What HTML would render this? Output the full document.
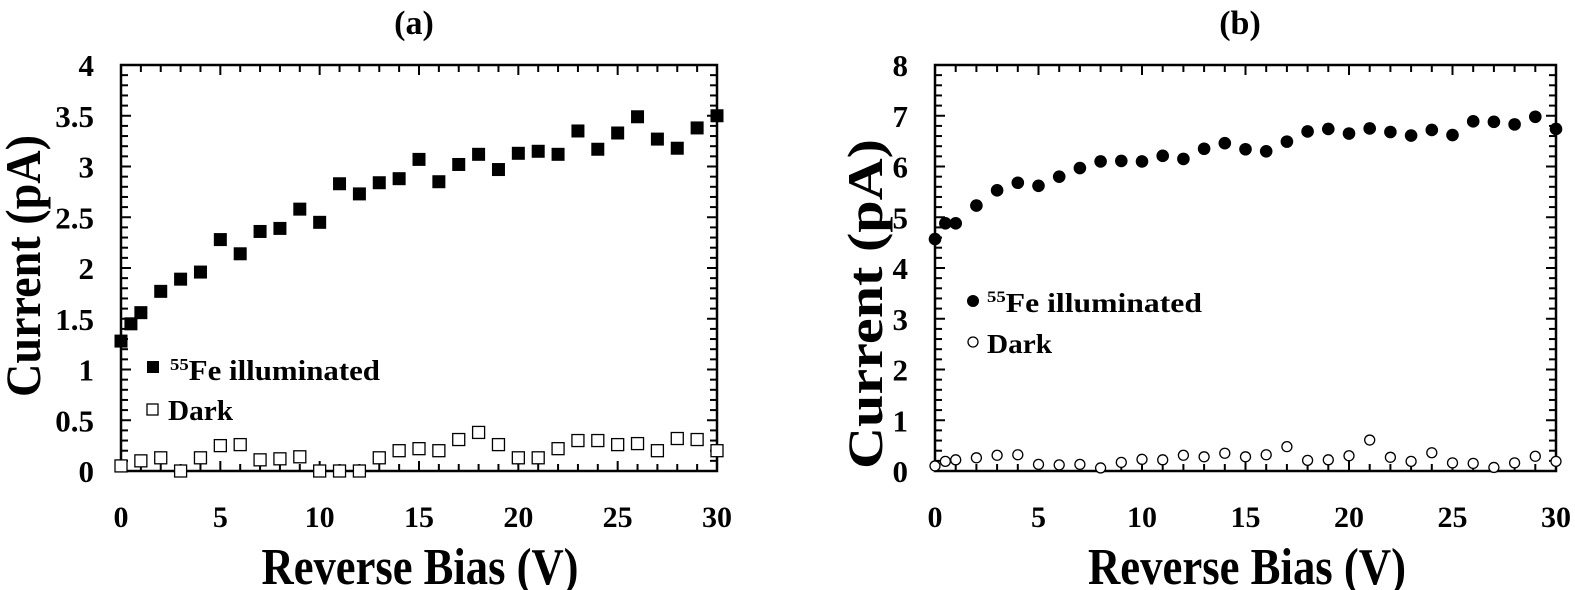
<!DOCTYPE html>
<html><head><meta charset="utf-8"><style>
html,body{margin:0;padding:0;background:#fff;}
svg{display:block;font-family:"Liberation Serif",serif;font-weight:bold;}
</style></head><body>
<svg id="s" width="1575" height="590" viewBox="0 0 1575 590" xmlns="http://www.w3.org/2000/svg"></svg>
<script>
const S=document.getElementById('s');let h='';
function panel(o){
 const {L,R,T,B,ymax,ymaj,ymin,fmt}=o;
 const X=v=>L+(R-L)*v/30, Y=v=>B-(B-T)*v/ymax;
 h+=`<rect x="${L}" y="${T}" width="${R-L}" height="${B-T}" fill="none" stroke="#000" stroke-width="2.5"/>`;
 for(let v=0;v<=30;v++){const x=X(v),len=v%5==0?10:7;
  h+=`<line x1="${x}" y1="${B}" x2="${x}" y2="${B-len}" stroke="#000" stroke-width="2"/><line x1="${x}" y1="${T}" x2="${x}" y2="${T+len}" stroke="#000" stroke-width="2"/>`;
  if(v%5==0)h+=`<text x="${x}" y="527" font-size="30" text-anchor="middle">${v}</text>`;}
 const n=Math.round(ymax/ymin);
 for(let i=0;i<=n;i++){const v=i*ymin,y=Y(v),maj=Math.abs(v/ymaj-Math.round(v/ymaj))<1e-6,len=maj?10:7;
  h+=`<line x1="${L}" y1="${y}" x2="${L+len}" y2="${y}" stroke="#000" stroke-width="2"/><line x1="${R}" y1="${y}" x2="${R-len}" y2="${y}" stroke="#000" stroke-width="2"/>`;
  if(maj)h+=`<text x="${L-27}" y="${y+11}" font-size="31" text-anchor="end">${fmt(v)}</text>`;}
 return {X,Y};
}
let a=panel({L:121,R:717,T:65,B:471,ymax:4,ymaj:0.5,ymin:0.1,fmt:v=>String(+v.toFixed(1))});
const xs=[0,0.5,1,2,3,4,5,6,7,8,9,10,11,12,13,14,15,16,17,18,19,20,21,22,23,24,25,26,27,28,29,30];
const af=[1.28,1.45,1.56,1.77,1.89,1.96,2.28,2.14,2.36,2.39,2.58,2.45,2.83,2.73,2.84,2.88,3.07,2.85,3.02,3.12,2.97,3.13,3.15,3.12,3.35,3.17,3.33,3.49,3.27,3.18,3.38,3.5];
const xd=[0,1,2,3,4,5,6,7,8,9,10,11,12,13,14,15,16,17,18,19,20,21,22,23,24,25,26,27,28,29,30];
const ad=[0.05,0.10,0.13,0.0,0.13,0.25,0.26,0.11,0.12,0.14,0,0,0,0.13,0.2,0.22,0.2,0.31,0.38,0.26,0.13,0.13,0.22,0.3,0.3,0.26,0.27,0.2,0.32,0.31,0.2];
xd.forEach((x,i)=>{h+=`<rect x="${a.X(x)-6}" y="${a.Y(ad[i])-6}" width="12" height="12" fill="#fff" stroke="#000" stroke-width="1.3"/>`;});
xs.forEach((x,i)=>{h+=`<rect x="${a.X(x)-6.5}" y="${a.Y(af[i])-6.5}" width="13" height="13" fill="#000"/>`;});
h+=`<rect x="147" y="361" width="12" height="12" fill="#000"/><text x="170" y="380" font-size="28" textLength="210" lengthAdjust="spacingAndGlyphs"><tspan font-size="17" dy="-10">55</tspan><tspan dy="10">Fe  illuminated</tspan></text>`;
h+=`<rect x="147" y="404" width="11" height="11" fill="#fff" stroke="#000" stroke-width="1.3"/><text x="168" y="420" font-size="28" textLength="65" lengthAdjust="spacingAndGlyphs">Dark</text>`;
h+=`<text x="414" y="34" font-size="34" text-anchor="middle">(a)</text>`;
h+=`<text x="420" y="584" font-size="52" text-anchor="middle" textLength="317" lengthAdjust="spacingAndGlyphs">Reverse Bias (V)</text>`;
h+=`<text transform="translate(40,266) rotate(-90)" font-size="50" text-anchor="middle" textLength="262" lengthAdjust="spacingAndGlyphs">Current (pA)</text>`;
let b=panel({L:935,R:1556,T:65,B:471,ymax:8,ymaj:1,ymin:0.2,fmt:v=>String(v)});
const bf=[4.57,4.88,4.88,5.23,5.53,5.68,5.62,5.80,5.97,6.10,6.11,6.10,6.21,6.15,6.35,6.46,6.34,6.30,6.49,6.69,6.74,6.65,6.75,6.68,6.61,6.72,6.62,6.89,6.88,6.83,6.98,6.74];
const bd=[0.10,0.19,0.22,0.26,0.31,0.32,0.13,0.12,0.13,0.06,0.17,0.23,0.22,0.31,0.28,0.35,0.28,0.32,0.48,0.21,0.22,0.30,0.61,0.27,0.19,0.36,0.16,0.15,0.07,0.16,0.29,0.19];
xs.forEach((x,i)=>{h+=`<circle cx="${b.X(x)}" cy="${b.Y(bd[i])}" r="5" fill="#fff" stroke="#000" stroke-width="1.3"/>`;});
xs.forEach((x,i)=>{h+=`<circle cx="${b.X(x)}" cy="${b.Y(bf[i])}" r="6.3" fill="#000"/>`;});
h+=`<circle cx="973" cy="301" r="6" fill="#000"/><text x="987" y="312" font-size="27" textLength="215" lengthAdjust="spacingAndGlyphs"><tspan font-size="16" dy="-10">55</tspan><tspan dy="10">Fe illuminated</tspan></text>`;
h+=`<circle cx="973" cy="342" r="5" fill="#fff" stroke="#000" stroke-width="1.3"/><text x="987" y="353" font-size="27" textLength="65" lengthAdjust="spacingAndGlyphs">Dark</text>`;
h+=`<text x="1240" y="34" font-size="34" text-anchor="middle">(b)</text>`;
h+=`<text x="1247" y="584" font-size="52" text-anchor="middle" textLength="318" lengthAdjust="spacingAndGlyphs">Reverse Bias (V)</text>`;
h+=`<text transform="translate(882,304) rotate(-90)" font-size="50" text-anchor="middle" textLength="330" lengthAdjust="spacingAndGlyphs">Current (pA)</text>`;
S.innerHTML=h;
</script>
</body></html>
